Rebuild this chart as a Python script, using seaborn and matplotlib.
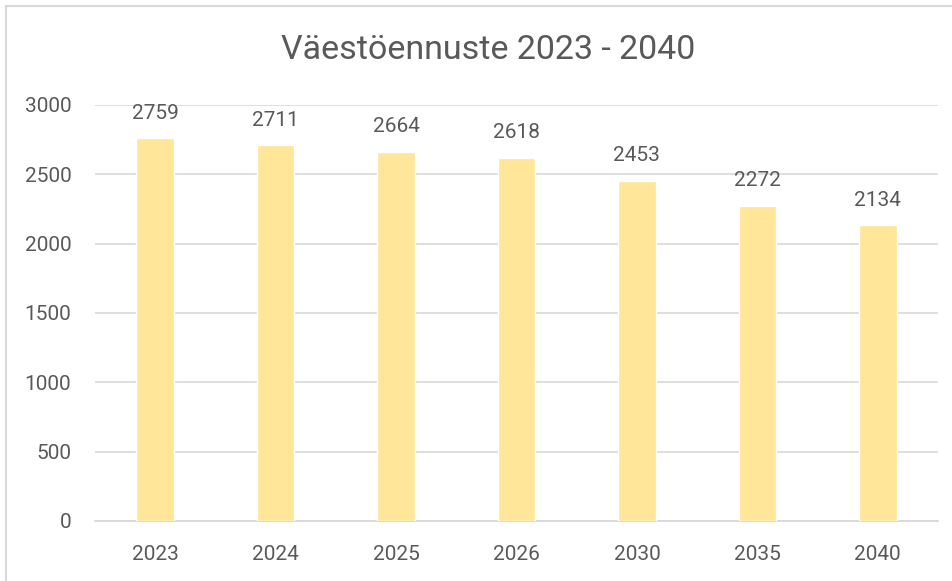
import matplotlib
matplotlib.use("Agg")
import matplotlib.pyplot as plt
import seaborn as sns
import pandas as pd
from matplotlib.patches import Rectangle

years = ["2023", "2024", "2025", "2026", "2030", "2035", "2040"]
population = [2759, 2711, 2664, 2618, 2453, 2272, 2134]
title = "Väestöennuste 2023 - 2040"

sns.set_theme(style="white")
plt.rcParams['font.family'] = ['Roboto', 'DejaVu Sans']

W, H = 953, 581
fig = plt.figure(figsize=(W / 100, H / 100), dpi=100)
ax = fig.add_axes([95 / W, 1 - 521 / H, (938 - 95) / W, (521 - 105) / H])

df = pd.DataFrame({"year": years, "value": population})
sns.barplot(data=df, x="year", y="value", color="#FFE699", saturation=1,
            width=0.313, ax=ax, zorder=3)

txt = "#595959"
ax.set_ylim(0, 3000)
ax.set_xlim(-0.5, len(years) - 0.5)
ax.set_yticks(range(0, 3001, 500))
ax.yaxis.grid(True, color="#D9D9D9", linewidth=1.2, zorder=0)
ax.set_axisbelow(True)
for s in ["top", "right", "left"]:
    ax.spines[s].set_visible(False)
ax.spines["bottom"].set_color("#D9D9D9")
ax.spines["bottom"].set_linewidth(1.3)
ax.set_xlabel("")
ax.set_ylabel("")
ax.tick_params(axis="both", length=0, labelsize=15, labelcolor=txt)
ax.tick_params(axis="y", pad=17)
ax.tick_params(axis="x", pad=17)

for i, v in enumerate(population):
    ax.annotate(str(v), (i, v), xytext=(0, 18), textcoords="offset points",
                ha="center", va="center", fontsize=15, color=txt)

fig.text(488 / W, 1 - 50 / H, title, ha="center", va="center",
         fontsize=24.5, color=txt)

fig.patches.append(Rectangle((6 / W, -0.1), 1.2, 1 - 6 / H + 0.1,
                             transform=fig.transFigure, fill=False,
                             edgecolor="#D9D9D9", linewidth=1.5))

fig.savefig("out.png", dpi=100)
